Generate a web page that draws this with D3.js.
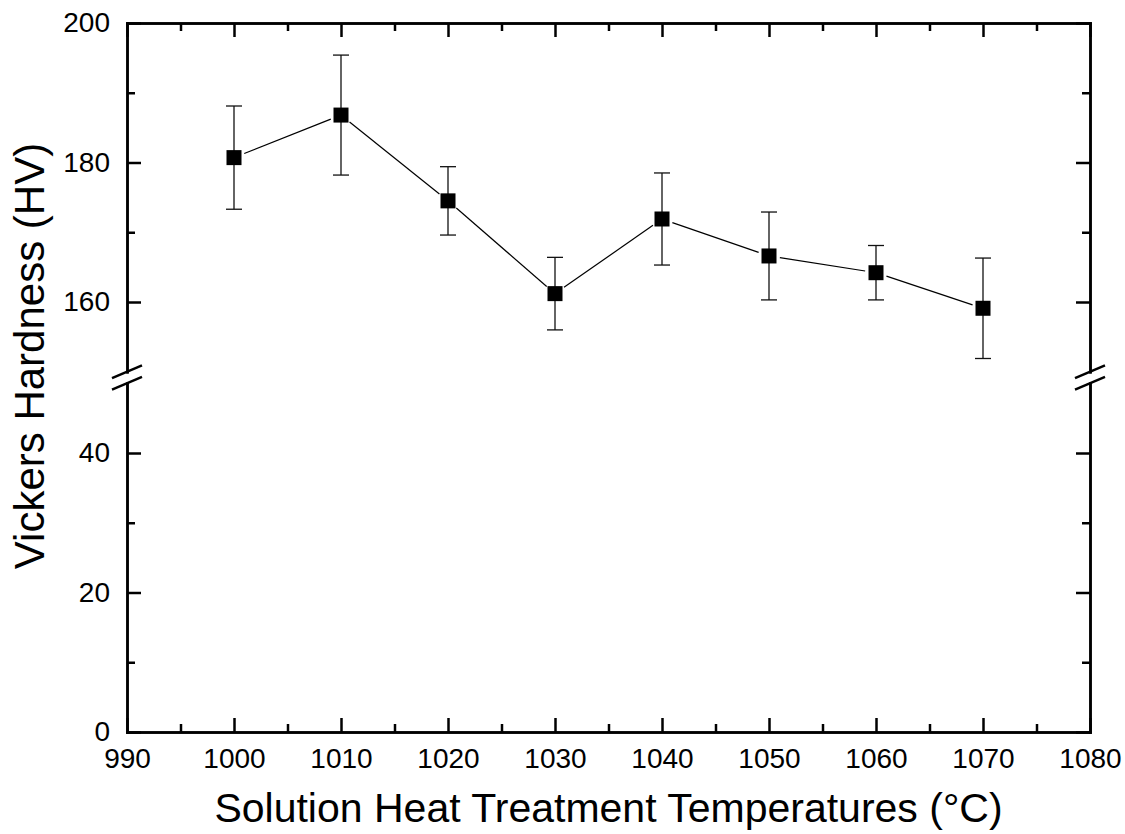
<!DOCTYPE html>
<html>
<head>
<meta charset="utf-8">
<script src="https://cdn.jsdelivr.net/npm/d3@7"></script>
<style>
  body { margin: 0; background: #fff; }
  svg { font-family: Arial, "Liberation Sans", sans-serif; }
  .axis path, .axis line { stroke: #000; stroke-width: 2.5; }
  .axis text { font-size: 28px; fill: #000; font-family: Arial, "Liberation Sans", sans-serif; }
</style>
</head>
<body>
<div id="chart"></div>
<script>
// data
const temps = [1000, 1010, 1020, 1030, 1040, 1050, 1060, 1070];
const hardness = [180.7, 186.8, 174.5, 161.2, 171.9, 166.6, 164.2, 159.1];
const errs = [7.4, 8.6, 4.9, 5.2, 6.6, 6.3, 3.9, 7.2];

const xMajor = [990, 1000, 1010, 1020, 1030, 1040, 1050, 1060, 1070, 1080];
const xMinor = [995, 1005, 1015, 1025, 1035, 1045, 1055, 1065, 1075];
const yUpperMajor = [160, 180, 200];
const yUpperMinor = [170, 190];
const yLowerMajor = [0, 20, 40];
const yLowerMinor = [10, 30];

const W = 1125, H = 834;
const pLeft = 127, pRight = 1090, pTop = 23, pBottom = 732;
const gap = 11.5;
const segH = (pBottom - pTop - gap) / 2;

const svg = d3.select("#chart").append("svg")
  .attr("width", W)
  .attr("height", H);

const x = d3.scaleLinear().domain([990, 1080]).range([pLeft, pRight]);
const yUp = d3.scaleLinear().domain([150, 200]).range([pTop + segH, pTop]);
const yLow = d3.scaleLinear().domain([0, 50]).range([pBottom, pBottom - segH]);

function addAxis(axis, tx, ty) {
  return svg.append("g")
    .attr("class", "axis")
    .attr("transform", `translate(${tx},${ty})`)
    .call(axis);
}

// bottom axis
addAxis(d3.axisBottom(x).tickValues(xMajor).tickSize(-14).tickSizeOuter(0).tickPadding(16).tickFormat(d3.format("d")), 0, pBottom);
addAxis(d3.axisBottom(x).tickValues(xMinor).tickSize(-8).tickSizeOuter(0).tickFormat(""), 0, pBottom);
// top axis
addAxis(d3.axisTop(x).tickValues(xMajor).tickSize(-14).tickSizeOuter(0).tickFormat(""), 0, pTop);
addAxis(d3.axisTop(x).tickValues(xMinor).tickSize(-8).tickSizeOuter(0).tickFormat(""), 0, pTop);

// left and right axes, two segments each
[[yUp, yUpperMajor, yUpperMinor], [yLow, yLowerMajor, yLowerMinor]].forEach(([ys, maj, min]) => {
  addAxis(d3.axisLeft(ys).tickValues(maj).tickSize(-14).tickSizeOuter(0).tickPadding(17), pLeft, 0);
  addAxis(d3.axisLeft(ys).tickValues(min).tickSize(-8).tickSizeOuter(0).tickFormat(""), pLeft, 0);
  addAxis(d3.axisRight(ys).tickValues(maj).tickSize(-14).tickSizeOuter(0).tickFormat(""), pRight, 0);
  addAxis(d3.axisRight(ys).tickValues(min).tickSize(-8).tickSizeOuter(0).tickFormat(""), pRight, 0);
});

svg.selectAll(".axis .domain").attr("stroke-linecap", "square");

// break marks
const breakYs = [yUp(150), yLow(50)];
[pLeft, pRight].forEach(ax => {
  breakYs.forEach(by => {
    svg.append("line")
      .attr("x1", ax - 15).attr("y1", by + 6.3)
      .attr("x2", ax + 15).attr("y2", by - 6.3)
      .attr("stroke", "#000")
      .attr("stroke-width", 2.5);
  });
});

// connecting line, cut short near markers
const pts = temps.map((t, i) => ({x: x(t), y: yUp(hardness[i])}));
const cut = 11;
for (let i = 0; i < pts.length - 1; i++) {
  const a = pts[i], b = pts[i + 1];
  const len = Math.hypot(b.x - a.x, b.y - a.y);
  const ux = (b.x - a.x) / len, uy = (b.y - a.y) / len;
  svg.append("line")
    .attr("x1", a.x + ux * cut).attr("y1", a.y + uy * cut)
    .attr("x2", b.x - ux * cut).attr("y2", b.y - uy * cut)
    .attr("stroke", "#000")
    .attr("stroke-width", 1.2);
}

// error bars
const eb = svg.append("g").attr("stroke", "#111").attr("stroke-width", 1.3);
temps.forEach((t, i) => {
  const cx = x(t);
  const y1 = yUp(hardness[i] + errs[i]), y2 = yUp(hardness[i] - errs[i]);
  eb.append("line").attr("x1", cx).attr("x2", cx).attr("y1", y1).attr("y2", y2);
  eb.append("line").attr("x1", cx - 8).attr("x2", cx + 8).attr("y1", y1).attr("y2", y1);
  eb.append("line").attr("x1", cx - 8).attr("x2", cx + 8).attr("y1", y2).attr("y2", y2);
});

// markers
const ms = 15;
svg.append("g")
  .selectAll("rect")
  .data(temps)
  .join("rect")
    .attr("x", (d) => x(d) - ms / 2)
    .attr("y", (d, i) => yUp(hardness[i]) - ms / 2)
    .attr("width", ms)
    .attr("height", ms)
    .attr("fill", "#000");

// axis titles
svg.append("text")
  .attr("x", (pLeft + pRight) / 2)
  .attr("y", 822)
  .attr("text-anchor", "middle")
  .attr("font-size", 41)
  .text("Solution Heat Treatment Temperatures (°C)");

svg.append("text")
  .attr("transform", `translate(44,356) rotate(-90)`)
  .attr("text-anchor", "middle")
  .attr("font-size", 42)
  .text("Vickers Hardness (HV)");
</script>
</body>
</html>
